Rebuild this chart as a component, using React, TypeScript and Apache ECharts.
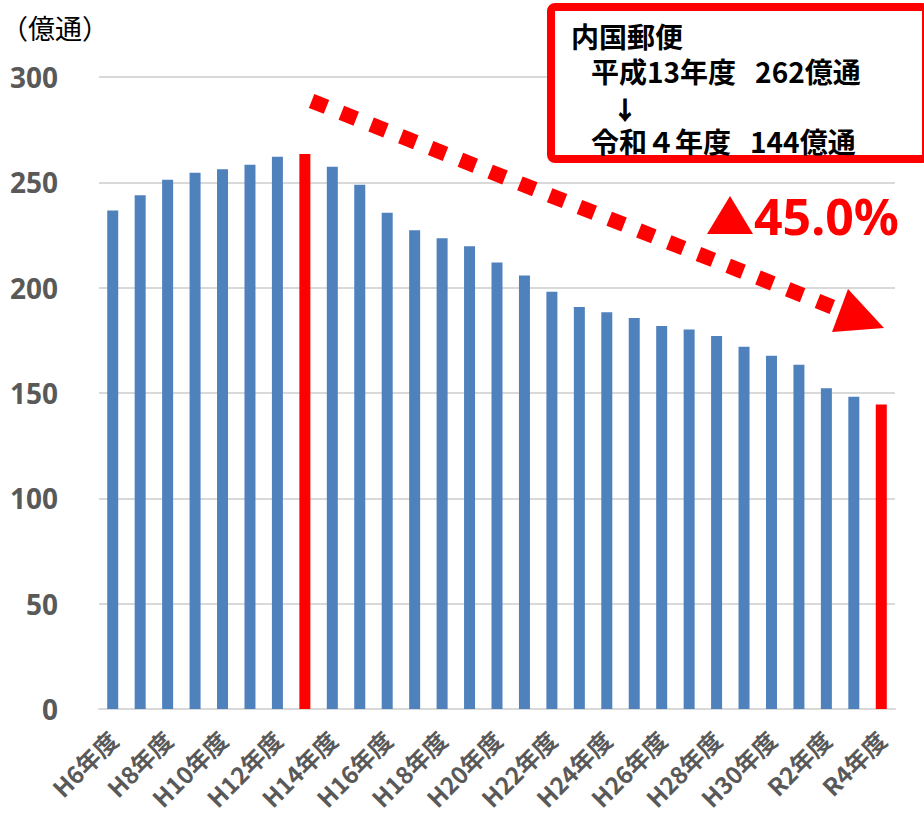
import React, { useEffect, useRef } from "react";
import * as echarts from "echarts";

const categories: string[] = [
  "H6年度", "H7年度", "H8年度", "H9年度", "H10年度", "H11年度", "H12年度", "H13年度",
  "H14年度", "H15年度", "H16年度", "H17年度", "H18年度", "H19年度", "H20年度", "H21年度",
  "H22年度", "H23年度", "H24年度", "H25年度", "H26年度", "H27年度", "H28年度", "H29年度",
  "H30年度", "R1年度", "R2年度", "R3年度", "R4年度",
];

const mailVolume: number[] = [
  236.6, 243.9, 251.2, 254.5, 256.2, 258.3, 262.1, 263.5,
  257.4, 248.8, 235.6, 227.3, 223.4, 219.7, 212.0, 205.8,
  198.1, 190.8, 188.3, 185.6, 181.8, 180.2, 177.0, 172.0,
  167.7, 163.4, 152.2, 148.2, 144.6,
];

const highlighted: string[] = ["H13年度", "R4年度"];

const yTicks = { min: 0, max: 300, interval: 50 };

const unitLabel = "（億通）";
const boxTitle = "内国郵便";
const boxLine1 = "平成13年度   262億通";
const boxArrow = "↓";
const boxLine2 = "令和４年度   144億通";
const changeLabel = "45.0%";

const BLUE = "#4f81bd";
const RED = "#ff0000";
const GRAY = "#595959";
const JP = "'Noto Sans CJK JP', sans-serif";

export default function App() {
  const ref = useRef<HTMLDivElement>(null);

  useEffect(() => {
    if (!ref.current) return;
    const chart = echarts.init(ref.current, null, { renderer: "svg" });
    const data = mailVolume.map((v, i) => ({
      value: v,
      itemStyle: { color: highlighted.includes(categories[i]) ? RED : BLUE },
    }));

    chart.setOption({
      animation: false,
      backgroundColor: "#ffffff",
      grid: { left: 99, right: 29, top: 77, bottom: 104 },
      xAxis: {
        type: "category",
        data: categories,
        axisLine: { show: true, lineStyle: { color: "#d9d9d9", width: 2 } },
        axisTick: { show: false },
        axisLabel: {
          interval: 1,
          rotate: 45,
          margin: 26,
          color: GRAY,
          fontSize: 24,
          fontWeight: "bold",
          fontFamily: JP,
        },
      },
      yAxis: {
        type: "value",
        min: yTicks.min,
        max: yTicks.max,
        interval: yTicks.interval,
        axisLine: { show: false },
        axisTick: { show: false },
        splitLine: { lineStyle: { color: "#d9d9d9", width: 2 } },
        axisLabel: {
          margin: 41,
          color: GRAY,
          fontSize: 28,
          fontWeight: "bold",
          fontFamily: "'Noto Sans', sans-serif",
        },
      },
      series: [
        {
          type: "bar",
          data,
          barWidth: 11,
        },
      ],
      graphic: [
        {
          type: "text",
          x: 1,
          y: 27,
          style: { text: unitLabel, fontSize: 27, fontFamily: JP, fill: "#000", verticalAlign: "middle" },
        },
        {
          type: "rect",
          shape: { x: 551, y: 7, width: 375, height: 152, r: 4 },
          style: { fill: "#fff", stroke: RED, lineWidth: 8 },
          z: 10,
        },
        {
          type: "text",
          x: 571,
          y: 36,
          style: { text: boxTitle, fontSize: 28, fontWeight: "bold", fontFamily: JP, fill: "#000", verticalAlign: "middle" },
          z: 11,
        },
        {
          type: "text",
          x: 591,
          y: 71,
          style: { text: boxLine1, fontSize: 28, fontWeight: "bold", fontFamily: JP, fill: "#000", verticalAlign: "middle" },
          z: 11,
        },
        {
          type: "text",
          x: 625,
          y: 108,
          style: {
            text: boxArrow,
            fontSize: 24,
            fontWeight: "bold",
            fontFamily: JP,
            fill: "#000",
            stroke: "#000",
            lineWidth: 1,
            align: "center",
            verticalAlign: "middle",
          },
          z: 11,
        },
        {
          type: "text",
          x: 591,
          y: 141,
          style: { text: boxLine2, fontSize: 28, fontWeight: "bold", fontFamily: JP, fill: "#000", verticalAlign: "middle" },
          z: 11,
        },
        {
          type: "line",
          shape: { x1: 311.6, y1: 101, x2: 840, y2: 310 },
          style: { stroke: RED, lineWidth: 15, lineDash: [16, 16], lineCap: "butt" },
          z: 12,
        },
        {
          type: "polygon",
          shape: { points: [[848, 289], [884, 328], [832, 332]] },
          style: { fill: RED },
          z: 12,
        },
        {
          type: "polygon",
          shape: { points: [[707, 234], [730, 196], [753, 234]] },
          style: { fill: RED },
          z: 12,
        },
        {
          type: "text",
          x: 754,
          y: 216,
          style: {
            text: changeLabel,
            fontSize: 50,
            fontWeight: "bold",
            fontFamily: "'Noto Sans', sans-serif",
            fill: RED,
            verticalAlign: "middle",
          },
          z: 12,
        },
      ],
    });

    return () => chart.dispose();
  }, []);

  return (
    <div
      ref={ref}
      style={{ position: "fixed", left: 0, top: 0, width: 924, height: 813, background: "#fff" }}
    />
  );
}
